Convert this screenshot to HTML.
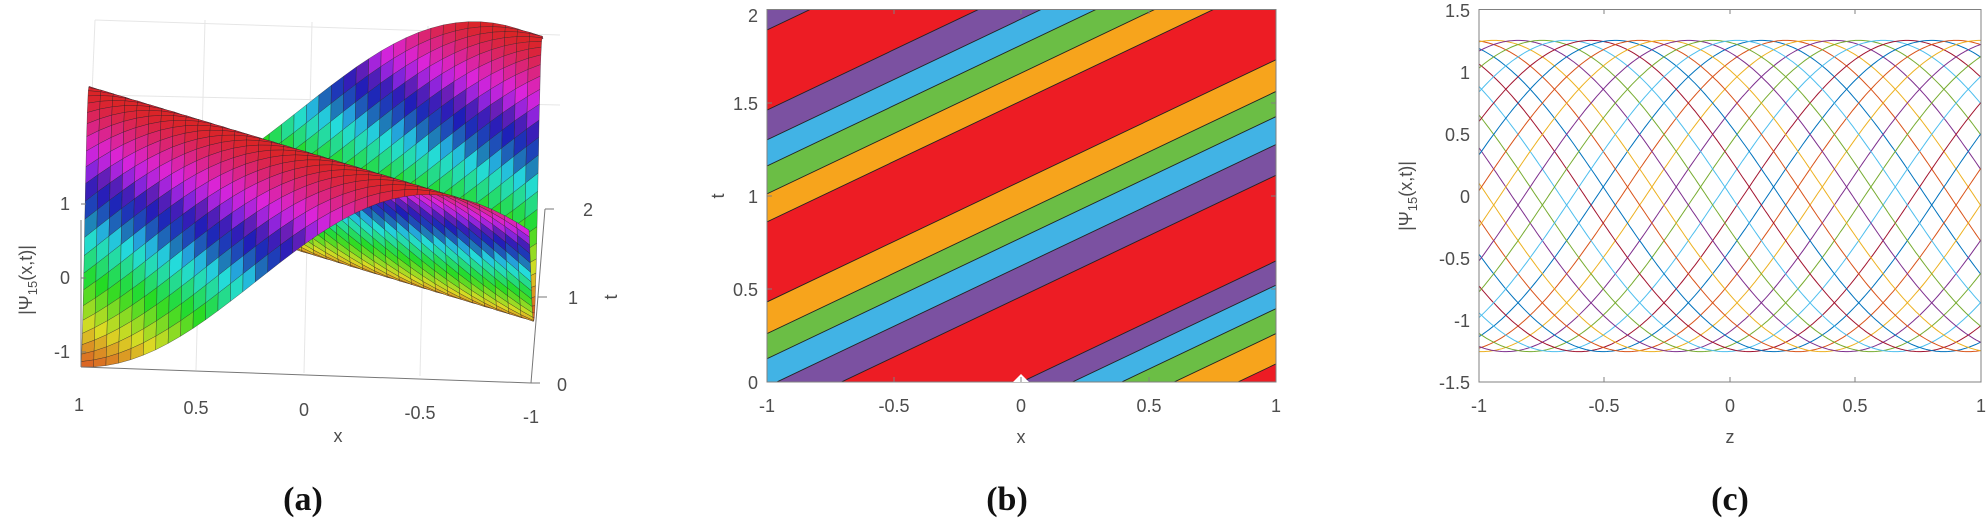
<!DOCTYPE html>
<html><head><meta charset="utf-8">
<style>
html,body{margin:0;padding:0;background:#fff;overflow:hidden;width:1987px;height:523px;position:relative;}
svg{display:block;position:absolute;left:0;top:0;}
text{font-family:"Liberation Sans",sans-serif;fill:#4d4d4d;font-size:18px;}
.cap{font-family:"Liberation Serif",serif;font-weight:bold;font-size:34px;fill:#111;}
</style></head>
<body>
<svg id="s" width="1987" height="523" viewBox="0 0 1987 523" xmlns="http://www.w3.org/2000/svg">
<defs><clipPath id="cb"><rect x="767" y="9.5" width="509" height="372.5"/></clipPath>
<clipPath id="cc"><rect x="1479" y="9.5" width="502" height="372.5"/></clipPath></defs>
<g stroke="#e6e6e6" stroke-width="1" fill="none">
<line x1="81" y1="367" x2="95" y2="20"/><line x1="95" y1="20" x2="560" y2="35"/>
<line x1="100" y1="95" x2="560" y2="105"/><line x1="196" y1="370" x2="205" y2="20"/>
<line x1="304" y1="373" x2="312" y2="22"/><line x1="420" y1="376" x2="428" y2="26"/>
</g>
<g id="a3d"></g>
<g stroke="#777" stroke-width="1" fill="none">
<line x1="81" y1="220" x2="81" y2="367"/>
<line x1="81" y1="367" x2="531" y2="383"/>
<line x1="531" y1="383" x2="545" y2="209"/>
<line x1="81" y1="204" x2="86" y2="204"/><line x1="81" y1="278" x2="86" y2="278"/><line x1="81" y1="352" x2="86" y2="352"/>
<line x1="531" y1="383" x2="540" y2="383"/><line x1="538" y1="297" x2="547" y2="297"/><line x1="545" y1="209" x2="554" y2="209"/>
</g>
<text x="70" y="210" text-anchor="end">1</text>
<text x="70" y="284" text-anchor="end">0</text>
<text x="70" y="358" text-anchor="end">-1</text>
<text x="79" y="411" text-anchor="middle">1</text>
<text x="196" y="414" text-anchor="middle">0.5</text>
<text x="304" y="416" text-anchor="middle">0</text>
<text x="420" y="419" text-anchor="middle">-0.5</text>
<text x="531" y="423" text-anchor="middle">-1</text>
<text x="338" y="442" text-anchor="middle">x</text>
<text x="557" y="391">0</text><text x="568" y="304">1</text><text x="583" y="216">2</text>
<text transform="translate(617,297) rotate(-90)" text-anchor="middle">t</text>
<text transform="translate(32,280) rotate(-90)" text-anchor="middle">|Ψ<tspan font-size="13" dy="5">15</tspan><tspan dy="-5">(x,t)|</tspan></text>
<text class="cap" x="303" y="510" text-anchor="middle">(a)</text>

<g id="bb" clip-path="url(#cb)"></g>
<rect x="767" y="9.5" width="509" height="372.5" fill="none" stroke="#808080" stroke-width="1"/>
<path d="M1013,382 L1021,374 L1029,382Z" fill="#fff"/>
<g stroke="#808080" stroke-width="1">
<line x1="894" y1="382" x2="894" y2="377"/><line x1="1021" y1="382" x2="1021" y2="377"/><line x1="1149" y1="382" x2="1149" y2="377"/>
<line x1="894" y1="9.5" x2="894" y2="14"/><line x1="1021" y1="9.5" x2="1021" y2="14"/><line x1="1149" y1="9.5" x2="1149" y2="14"/>
<line x1="767" y1="103" x2="772" y2="103"/><line x1="767" y1="196" x2="772" y2="196"/><line x1="767" y1="289" x2="772" y2="289"/>
<line x1="1276" y1="103" x2="1271" y2="103"/><line x1="1276" y1="196" x2="1271" y2="196"/><line x1="1276" y1="289" x2="1271" y2="289"/>
</g>
<text x="758" y="22" text-anchor="end">2</text>
<text x="758" y="110" text-anchor="end">1.5</text>
<text x="758" y="203" text-anchor="end">1</text>
<text x="758" y="296" text-anchor="end">0.5</text>
<text x="758" y="389" text-anchor="end">0</text>
<text x="767" y="412" text-anchor="middle">-1</text>
<text x="894" y="412" text-anchor="middle">-0.5</text>
<text x="1021" y="412" text-anchor="middle">0</text>
<text x="1149" y="412" text-anchor="middle">0.5</text>
<text x="1276" y="412" text-anchor="middle">1</text>
<text x="1021" y="443" text-anchor="middle">x</text>
<text transform="translate(724,196) rotate(-90)" text-anchor="middle">t</text>
<text class="cap" x="1007" y="510" text-anchor="middle">(b)</text>

<g id="cc2" clip-path="url(#cc)" fill="none" stroke-width="1"></g>
<rect x="1479" y="9.5" width="502" height="372.5" fill="none" stroke="#808080" stroke-width="1"/>
<g stroke="#808080" stroke-width="1">
<line x1="1604" y1="382" x2="1604" y2="377"/><line x1="1730" y1="382" x2="1730" y2="377"/><line x1="1855" y1="382" x2="1855" y2="377"/>
<line x1="1604" y1="9.5" x2="1604" y2="14"/><line x1="1730" y1="9.5" x2="1730" y2="14"/><line x1="1855" y1="9.5" x2="1855" y2="14"/>
</g>
<text x="1470" y="17" text-anchor="end">1.5</text>
<text x="1470" y="79" text-anchor="end">1</text>
<text x="1470" y="141" text-anchor="end">0.5</text>
<text x="1470" y="203" text-anchor="end">0</text>
<text x="1470" y="265" text-anchor="end">-0.5</text>
<text x="1470" y="327" text-anchor="end">-1</text>
<text x="1470" y="389" text-anchor="end">-1.5</text>
<text x="1479" y="412" text-anchor="middle">-1</text>
<text x="1604" y="412" text-anchor="middle">-0.5</text>
<text x="1730" y="412" text-anchor="middle">0</text>
<text x="1855" y="412" text-anchor="middle">0.5</text>
<text x="1981" y="412" text-anchor="middle">1</text>
<text x="1730" y="443" text-anchor="middle">z</text>
<text transform="translate(1412,196) rotate(-90)" text-anchor="middle">|Ψ<tspan font-size="13" dy="5">15</tspan><tspan dy="-5">(x,t)|</tspan></text>
<text class="cap" x="1730" y="510" text-anchor="middle">(c)</text>
</svg>
<script>
var NS="http://www.w3.org/2000/svg";
function el(t,a,p){var e=document.createElementNS(NS,t);for(var k in a)e.setAttribute(k,a[k]);p.appendChild(e);return e;}
(function(){
var g=document.getElementById('bb');
var R='#ED1C24',P='#7B51A1',B='#41B3E5',G='#6BBE45',O='#F7A41C';
var bands=[[-3,-0.553,R],[-0.553,-0.39,O],[-0.39,-0.256,G],[-0.256,-0.13,B],[-0.13,0,P],[0,0.46,R],[0.46,0.625,P],[0.625,0.775,B],[0.775,0.91,G],[0.91,1.08,O],[1.08,1.51,R],[1.51,1.66,O],[1.66,1.81,G],[1.81,1.95,B],[1.95,2.11,P],[2.11,2.54,R],[2.54,2.7,P],[2.7,4,B]];
var k=0.65;
function X(x){return 767+(x+1)*254.5;}function Y(t){return 382-t*186.25;}
bands.forEach(function(b){
var a=b[0],c=b[1];
var pts=[[-1,a-k],[1,a+k],[1,c+k],[-1,c-k]].map(function(p){return X(p[0])+','+Y(p[1]);}).join(' ');
el('polygon',{points:pts,fill:b[2]},g);
});
bands.forEach(function(b){
var a=b[1];
el('line',{x1:X(-1),y1:Y(a-k),x2:X(1),y2:Y(a+k),stroke:'#222','stroke-width':0.9},g);
});
})();
(function(){
var g=document.getElementById('cc2');
var cols=['#0072BD','#D95319','#EDB120','#7E2F8E','#77AC30','#4DBEEE','#A2142F'];
var N=27,kk=2.4;
for(var i=0;i<N;i++){
var ph=i*2*Math.PI/N+0.3;var d='';
for(var j=0;j<=200;j++){var z=-1+j*0.01;var v=1.25*Math.cos(kk*z-ph);
d+=(j?'L':'M')+(1730+z*251).toFixed(1)+','+(196-v*124.5).toFixed(1);}
el('path',{d:d,stroke:cols[i%7]},g);
}
})();
(function(){
var g=document.getElementById('a3d');
function f(x,t){return 1.25*Math.cos(2*x-3*t+1.14);}
function P(x,t,z){return [305-224*x+7*t, 282.5-8*x-87*t-74*z];}
function col(z){var n=(z+1.25)/2.5;n=Math.max(0,Math.min(1,n));var h=(20+340*n)%360;
var l=(h>200&&h<270)?42:50;return 'hsl('+h.toFixed(0)+',72%,'+l+'%)';}
var nx=36,nt=40,q=[];
for(var i=0;i<nx;i++)for(var j=0;j<nt;j++){
var x0=-1+2*i/nx,x1=-1+2*(i+1)/nx,t0=2*j/nt,t1=2*(j+1)/nt;
var z00=f(x0,t0),z10=f(x1,t0),z11=f(x1,t1),z01=f(x0,t1);
var zm=(z00+z10+z11+z01)/4,tm=(t0+t1)/2,xm=(x0+x1)/2;
var pts=[P(x0,t0,z00),P(x1,t0,z10),P(x1,t1,z11),P(x0,t1,z01)];
q.push({d:150*tm+8*xm-43*zm,p:pts,c:col(zm)});
}
q.sort(function(a,b){return b.d-a.d;});
q.forEach(function(o){
el('polygon',{points:o.p.map(function(p){return p[0].toFixed(1)+','+p[1].toFixed(1);}).join(' '),fill:o.c,stroke:'#222','stroke-width':0.45,'stroke-opacity':0.7},g);
});
})();
</script>
</body></html>
